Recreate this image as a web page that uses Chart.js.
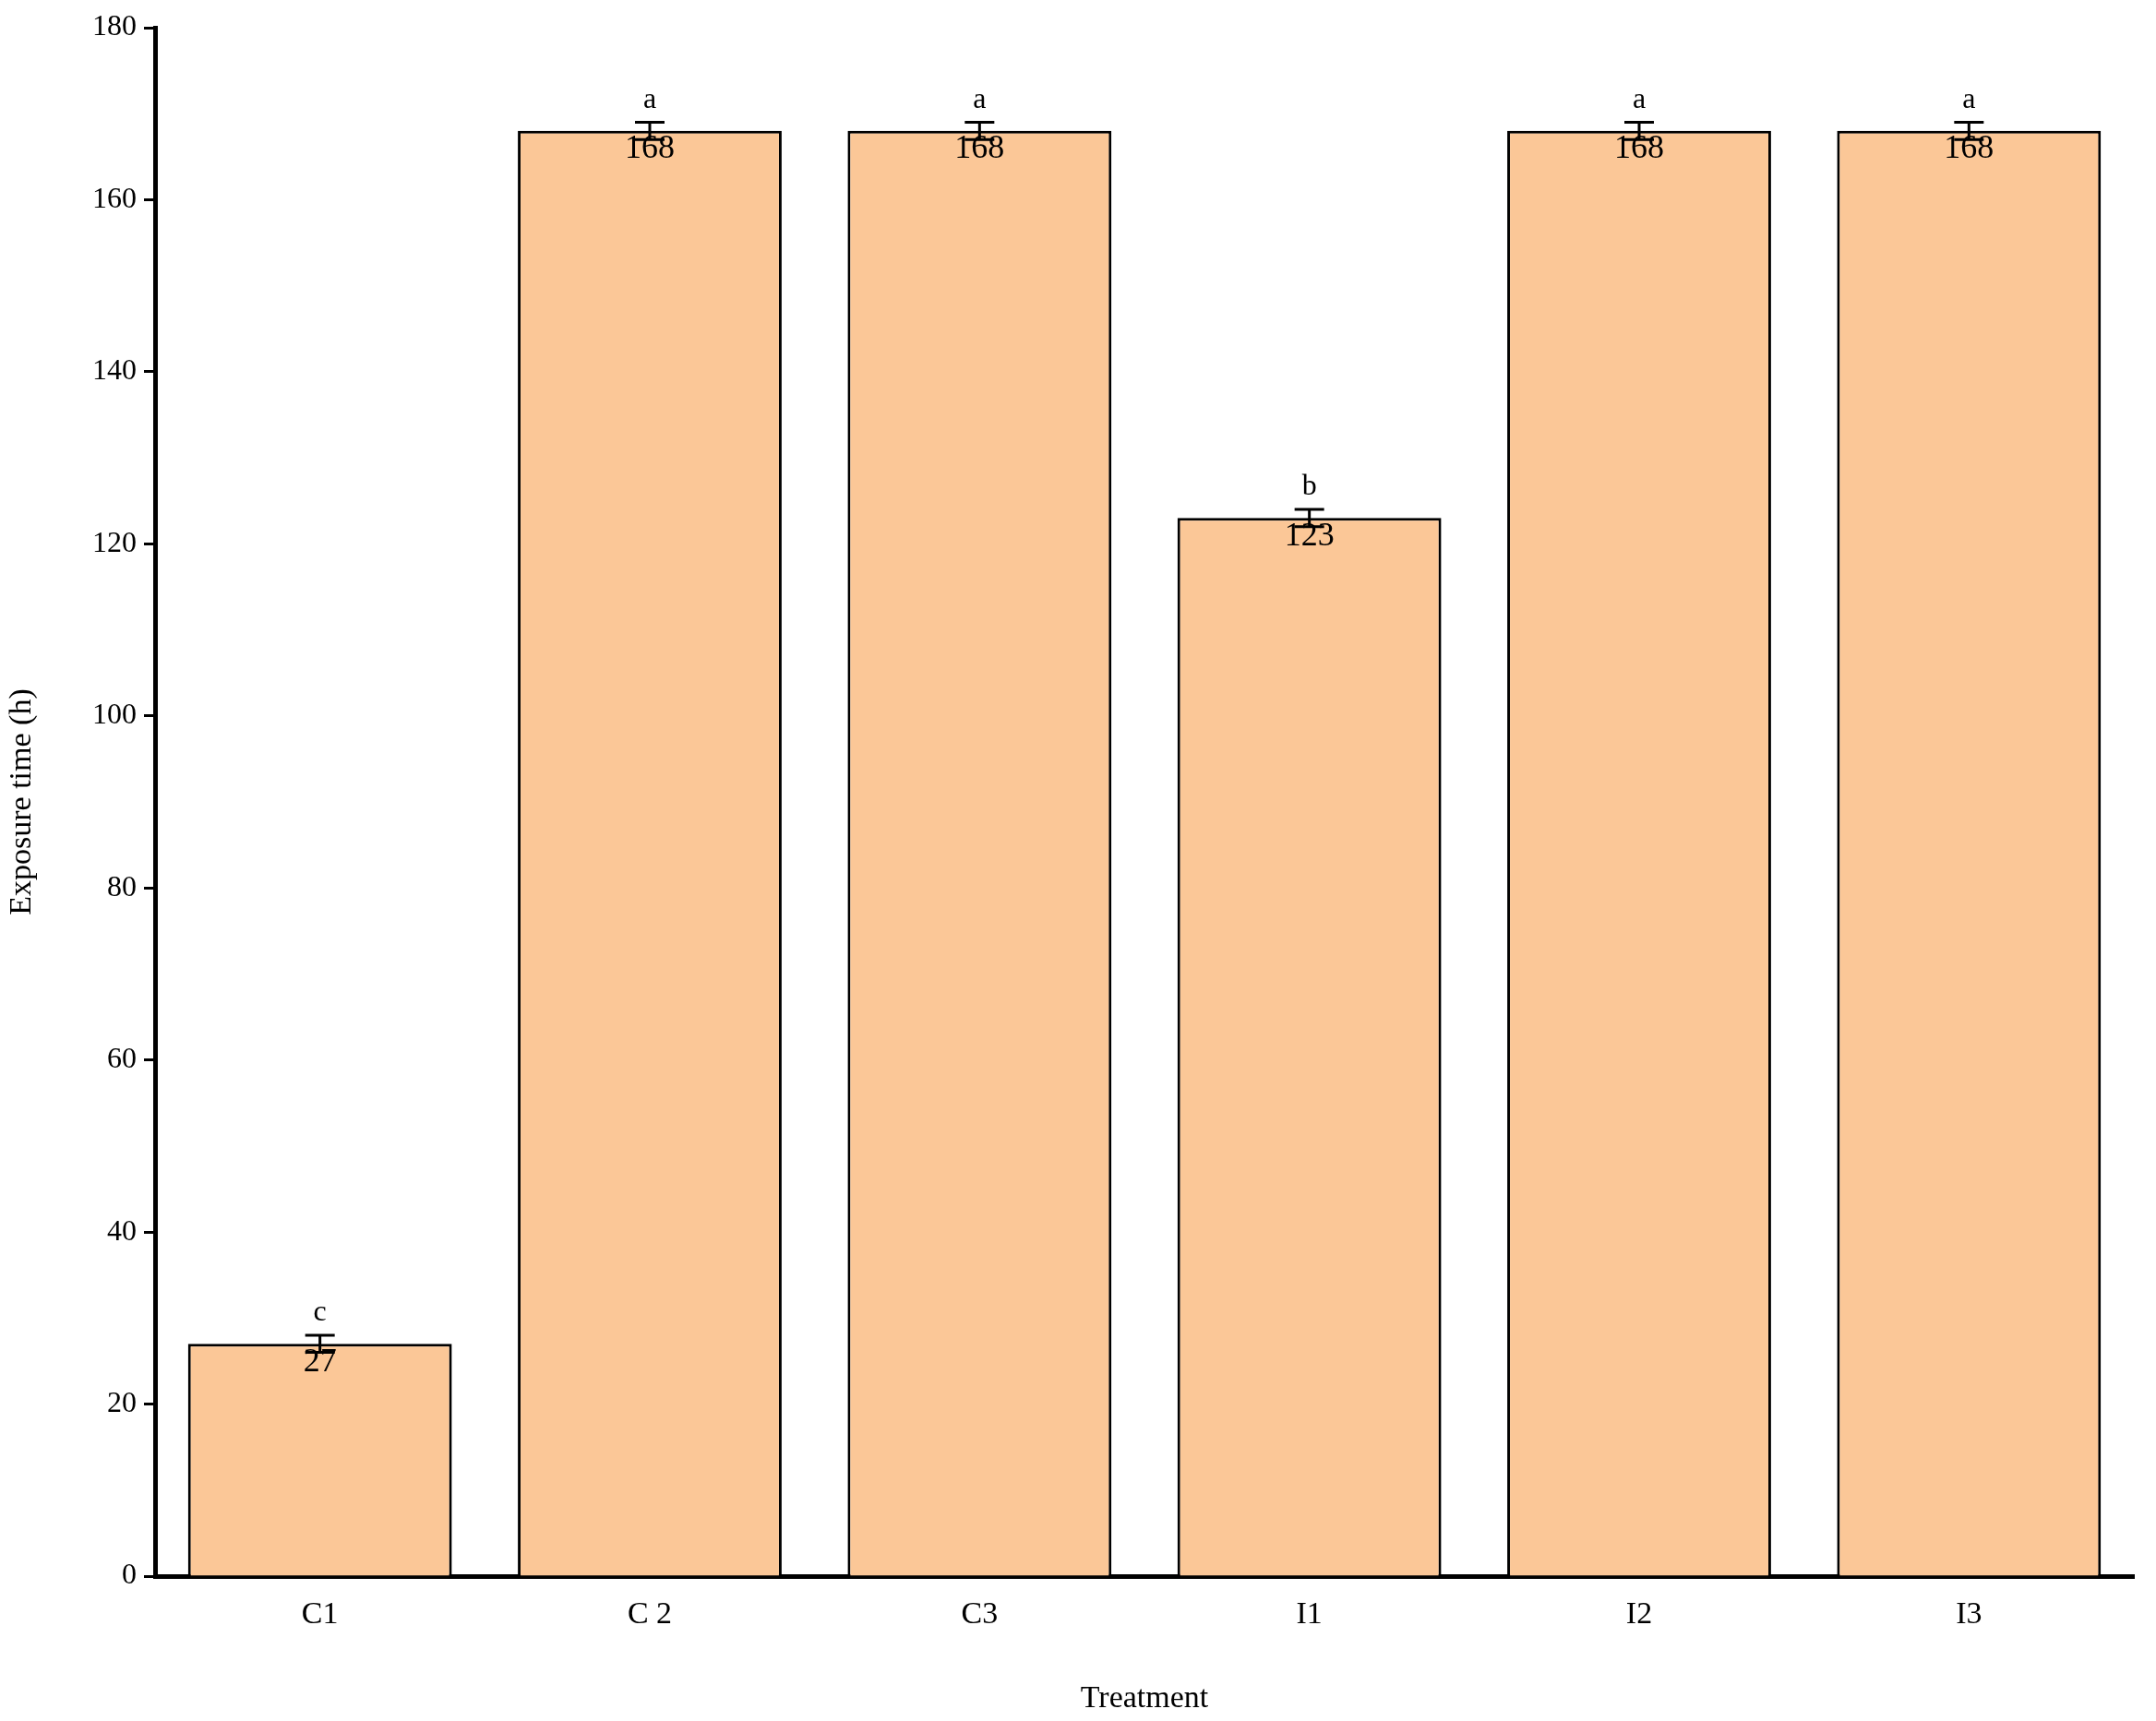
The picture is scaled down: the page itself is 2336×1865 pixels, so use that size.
<!DOCTYPE html>
<html>
<head>
<script src="https://cdn.jsdelivr.net/npm/chart.js@4"></script>
<style>body{margin:0;background:#fff}</style>
</head>
<body>
<canvas id="c" width="2336" height="1865"></canvas>
<script>
const labels = ["C1", "C 2", "C3", "I1", "I2", "I3"];
const values = [27, 168, 168, 123, 168, 168];
const errors = [1, 1, 1, 1, 1, 1];
const letters = ["c", "a", "a", "b", "a", "a"];
const yTicks = [0, 20, 40, 60, 80, 100, 120, 140, 160, 180];

const font = "Liberation Serif";

const barExtras = {
	id: "barExtras",
	afterDatasetsDraw(chart) {
		const ctx = chart.ctx;
		const y = chart.scales.y;
		const meta = chart.getDatasetMeta(0);
		ctx.save();
		ctx.strokeStyle = "#000";
		ctx.fillStyle = "#000";
		ctx.lineWidth = 3;
		ctx.textAlign = "center";
		meta.data.forEach((bar, i) => {
			const x = bar.x;
			const hi = y.getPixelForValue(values[i] + errors[i]);
			const lo = y.getPixelForValue(values[i] - errors[i]);
			ctx.beginPath();
			ctx.moveTo(x, hi); ctx.lineTo(x, lo);
			ctx.moveTo(x - 16, hi); ctx.lineTo(x + 16, hi);
			ctx.moveTo(x - 16, lo); ctx.lineTo(x + 16, lo);
			ctx.stroke();
			ctx.font = "32px '" + font + "'";
			ctx.textBaseline = "bottom";
			ctx.fillText(letters[i], x, hi - 8);
			ctx.font = "36px '" + font + "'";
			ctx.textBaseline = "top";
			ctx.fillText(String(values[i]), x, bar.y + 2);
		});
		ctx.restore();
	}
};

new Chart(document.getElementById("c").getContext("2d"), {
	type: "bar",
	data: {
		labels: labels,
		datasets: [{
			data: values,
			backgroundColor: "#fbc797",
			borderColor: "#000",
			borderWidth: 3,
			categoryPercentage: 0.8,
			barPercentage: 1,
		}],
	},
	options: {
		responsive: false,
		devicePixelRatio: 1,
		animation: false,
		layout: { padding: { top: 30, right: 24, left: 0, bottom: 0 } },
		plugins: { legend: { display: false }, tooltip: { enabled: false } },
		scales: {
			x: {
				grid: { display: false },
				border: { display: true, color: "#000", width: 5 },
				ticks: { color: "#000", font: { family: font, size: 34 }, padding: 14 },
				title: { display: true, text: "Treatment", color: "#000", font: { family: font, size: 34 }, padding: { top: 28 } },
				afterFit: (s) => { s.height = 1865 - 1716 - 30 + 38; },
			},
			y: {
				min: 0,
				max: 180,
				afterBuildTicks: (s) => { s.ticks = yTicks.map((v) => ({ value: v })); },
				grid: { drawOnChartArea: false, drawTicks: true, tickLength: 12, tickColor: "#000", tickWidth: 3 },
				border: { display: true, color: "#000", width: 5 },
				ticks: { color: "#000", font: { family: font, size: 32 }, padding: 8 },
				title: { display: true, text: "Exposure time (h)", color: "#000", font: { family: font, size: 34 }, padding: { bottom: 12 } },
				afterFit: (s) => { s.width = 168; },
			},
		},
	},
	plugins: [barExtras],
});
</script>
</body>
</html>
